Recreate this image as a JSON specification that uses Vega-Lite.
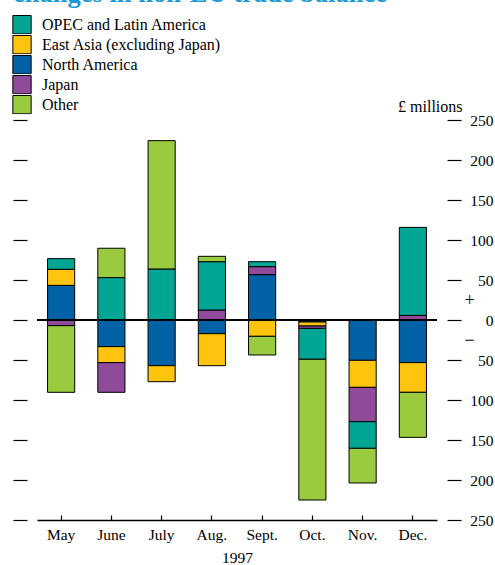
{
  "$schema": "https://vega.github.io/schema/vega-lite/v6.json",
  "width": 400,
  "height": 400,
  "autosize": {"type": "none"},
  "padding": {"left": 37, "top": 120, "right": 58, "bottom": 45},
  "config": {
    "font": "Liberation Serif",
    "view": {"stroke": null},
    "axis": {"labelColor": "black", "titleColor": "black", "tickColor": "black", "domainColor": "black"}
  },
  "title": {
    "text": "changes in non-EU trade balance",
    "anchor": "start",
    "frame": "group",
    "color": "#1a9bd7",
    "fontSize": 26.5,
    "fontWeight": "bold",
    "font": "Liberation Serif",
    "dx": -24,
    "dy": -4
  },
  "data": {
    "values": [
      {"month": "May", "region": "North America", "value": 43.3},
      {"month": "May", "region": "East Asia (excluding Japan)", "value": 20.1},
      {"month": "May", "region": "Japan", "value": -7.1},
      {"month": "May", "region": "OPEC and Latin America", "value": 13.3},
      {"month": "May", "region": "Other", "value": -83.3},
      {"month": "June", "region": "North America", "value": -33.3},
      {"month": "June", "region": "East Asia (excluding Japan)", "value": -20},
      {"month": "June", "region": "Japan", "value": -37.1},
      {"month": "June", "region": "OPEC and Latin America", "value": 53},
      {"month": "June", "region": "Other", "value": 36.7},
      {"month": "July", "region": "North America", "value": -57.1},
      {"month": "July", "region": "East Asia (excluding Japan)", "value": -20},
      {"month": "July", "region": "OPEC and Latin America", "value": 63.8},
      {"month": "July", "region": "Other", "value": 160.4},
      {"month": "Aug.", "region": "North America", "value": -17.1},
      {"month": "Aug.", "region": "East Asia (excluding Japan)", "value": -40},
      {"month": "Aug.", "region": "Japan", "value": 12.5},
      {"month": "Aug.", "region": "OPEC and Latin America", "value": 60.4},
      {"month": "Aug.", "region": "Other", "value": 6.7},
      {"month": "Sept.", "region": "North America", "value": 56.7},
      {"month": "Sept.", "region": "East Asia (excluding Japan)", "value": -20.4},
      {"month": "Sept.", "region": "Japan", "value": 10},
      {"month": "Sept.", "region": "OPEC and Latin America", "value": 6.2},
      {"month": "Sept.", "region": "Other", "value": -23.3},
      {"month": "Oct.", "region": "North America", "value": -2.5},
      {"month": "Oct.", "region": "East Asia (excluding Japan)", "value": -5},
      {"month": "Oct.", "region": "Japan", "value": -3},
      {"month": "Oct.", "region": "OPEC and Latin America", "value": -38.6},
      {"month": "Oct.", "region": "Other", "value": -175.9},
      {"month": "Nov.", "region": "North America", "value": -50.4},
      {"month": "Nov.", "region": "East Asia (excluding Japan)", "value": -33.8},
      {"month": "Nov.", "region": "Japan", "value": -42.9},
      {"month": "Nov.", "region": "OPEC and Latin America", "value": -33.3},
      {"month": "Nov.", "region": "Other", "value": -43.3},
      {"month": "Dec.", "region": "North America", "value": -53.3},
      {"month": "Dec.", "region": "East Asia (excluding Japan)", "value": -37.1},
      {"month": "Dec.", "region": "Japan", "value": 5.8},
      {"month": "Dec.", "region": "OPEC and Latin America", "value": 110},
      {"month": "Dec.", "region": "Other", "value": -56.3}
    ]
  },
  "layer": [
    {
      "transform": [
        {"calculate": "indexof(['North America', 'East Asia (excluding Japan)', 'Japan', 'OPEC and Latin America', 'Other'], datum.region)", "as": "stackOrder"}
      ],
      "mark": {"type": "bar", "stroke": "black", "strokeWidth": 1},
      "encoding": {
        "x": {
          "field": "month",
          "type": "nominal",
          "sort": ["May", "June", "July", "Aug.", "Sept.", "Oct.", "Nov.", "Dec."],
          "scale": {"paddingInner": 0.46, "paddingOuter": 0.21},
          "axis": {
            "orient": "bottom",
            "title": "1997",
            "labelAngle": 0,
            "labelFontSize": 15.5,
            "labelPadding": 12,
            "tickSize": -5,
            "tickWidth": 1.2,
            "domainWidth": 1.3,
            "titleFontSize": 15.5,
            "titleFontWeight": "normal",
            "titlePadding": 8
          }
        },
        "y": {
          "field": "value",
          "type": "quantitative",
          "stack": "zero",
          "scale": {"domain": [-250, 250], "nice": false},
          "axis": {
            "orient": "right",
            "values": [-250, -200, -150, -100, -50, 0, 50, 100, 150, 200, 250],
            "offset": 10,
            "tickSize": 14,
            "tickWidth": 1.2,
            "domain": false,
            "grid": false,
            "labelExpr": "abs(datum.value)",
            "labelAlign": "right",
            "labelBaseline": "middle",
            "labelPadding": 32,
            "labelFontSize": 15.5,
            "title": "£ millions",
            "titleAngle": 0,
            "titleAlign": "right",
            "titleBaseline": "alphabetic",
            "titleX": 15,
            "titleY": -9,
            "titleFontSize": 16,
            "titleFontWeight": "normal"
          }
        },
        "color": {
          "field": "region",
          "type": "nominal",
          "scale": {
            "domain": ["OPEC and Latin America", "East Asia (excluding Japan)", "North America", "Japan", "Other"],
            "range": ["#00a693", "#ffc40d", "#0062a4", "#8f4a9a", "#9aca3d"]
          },
          "legend": {
            "orient": "none",
            "legendX": -25,
            "legendY": -105,
            "title": null,
            "padding": 0,
            "symbolType": "square",
            "symbolSize": 335,
            "symbolStrokeColor": "black",
            "symbolStrokeWidth": 1,
            "symbolOpacity": 1,
            "clipHeight": 19.3,
            "rowPadding": 0,
            "labelFontSize": 16,
            "labelLimit": 0,
            "labelColor": "black",
            "labelOffset": 10
          }
        },
        "order": {"field": "stackOrder", "type": "quantitative", "sort": "ascending"}
      }
    },
    {
      "mark": {"type": "rule", "color": "black", "strokeWidth": 1.2},
      "encoding": {
        "y": {
          "datum": 0,
          "type": "quantitative",
          "axis": {
            "orient": "left",
            "values": [-250, -200, -150, -100, -50, 0, 50, 100, 150, 200, 250],
            "offset": 10,
            "tickSize": 14,
            "tickWidth": 1.2,
            "labels": false,
            "domain": false,
            "grid": false,
            "title": null
          }
        }
      }
    },
    {
      "mark": {"type": "rule", "opacity": 0},
      "encoding": {
        "y": {
          "datum": 0,
          "type": "quantitative",
          "axis": {
            "orient": "right",
            "values": [25, -25],
            "labelExpr": "datum.value > 0 ? '+' : '−'",
            "ticks": false,
            "domain": false,
            "grid": false,
            "offset": 32,
            "labelPadding": 0,
            "labelAlign": "center",
            "labelBaseline": "middle",
            "labelFontSize": 18,
            "title": null
          }
        }
      }
    }
  ],
  "resolve": {"axis": {"y": "independent"}}
}
